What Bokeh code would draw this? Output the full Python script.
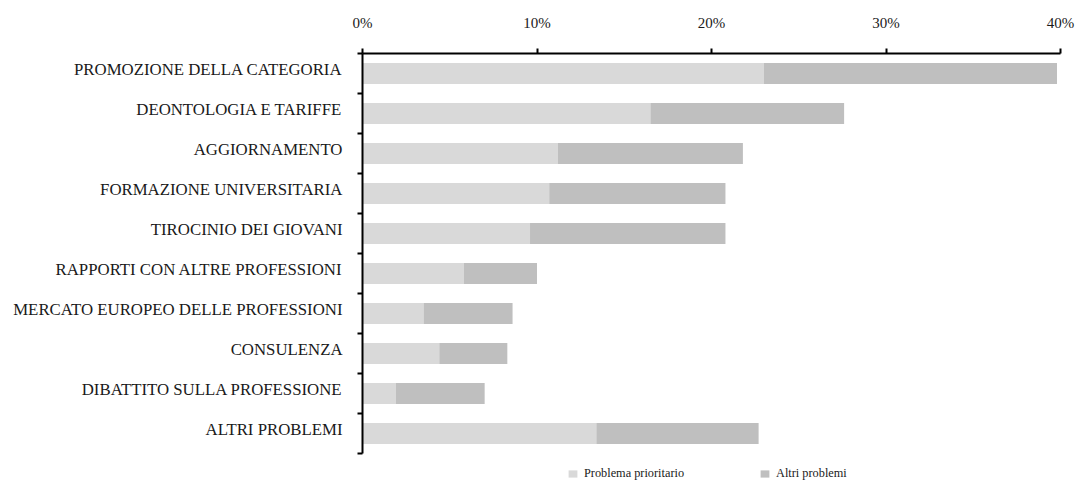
from bokeh.plotting import figure
from bokeh.models import (ColumnDataSource, Range1d, FixedTicker,
                          PrintfTickFormatter, Legend, LegendItem)
from bokeh.embed import file_html
from bokeh.resources import INLINE

categories = [
    "PROMOZIONE DELLA CATEGORIA",
    "DEONTOLOGIA E TARIFFE",
    "AGGIORNAMENTO",
    "FORMAZIONE UNIVERSITARIA",
    "TIROCINIO DEI GIOVANI",
    "RAPPORTI CON ALTRE PROFESSIONI",
    "MERCATO EUROPEO DELLE PROFESSIONI",
    "CONSULENZA",
    "DIBATTITO SULLA PROFESSIONE",
    "ALTRI PROBLEMI",
]
prioritario = [23.0, 16.5, 11.2, 10.7, 9.6, 5.8, 3.5, 4.4, 1.9, 13.4]
altri = [16.8, 11.1, 10.6, 10.1, 11.2, 4.2, 5.1, 3.9, 5.1, 9.3]
x_ticks = [0, 10, 20, 30, 40]
series_names = ["Problema prioritario", "Altri problemi"]
colors = ["#D9D9D9", "#BFBFBF"]

FONT = "Liberation Serif"
n = len(categories)
# numeric slot for each category (first category on top)
slots = [n - i - 0.5 for i in range(n)]
label_pos = [s + 0.1 for s in slots]
legend_room = 0.725  # extra space below the category slots for the legend

source = ColumnDataSource(dict(y=slots, cat=categories, prio=prioritario, altri=altri))

p = figure(width=1076, height=482, output_backend="svg", toolbar_location=None,
           y_range=Range1d(-legend_room, n), x_range=Range1d(0, 40), x_axis_location="above",
           min_border_left=362, min_border_right=16, min_border_top=53, min_border_bottom=0)
p.outline_line_color = None
p.xgrid.visible = False
p.ygrid.visible = False

renderers = p.hbar_stack(["prio", "altri"], y="y", height=0.52, fill_color=colors,
                         line_color=None, source=source)

# top axis
xa = p.xaxis[0]
xa.ticker = FixedTicker(ticks=x_ticks)
xa.formatter = PrintfTickFormatter(format="%d%%")
xa.major_tick_out = 5
xa.major_tick_in = 0
xa.minor_tick_out = 0
xa.minor_tick_in = 0
xa.axis_line_width = 2
xa.axis_line_color = "black"
xa.major_tick_line_width = 2
xa.major_label_standoff = 18
xa.major_label_text_font = FONT
xa.major_label_text_font_size = "15px"
xa.major_label_text_color = "#1a1a1a"

# left axis: category labels at slot centres, ticks at slot boundaries
ya = p.yaxis[0]
ya.bounds = (0, n)
ya.ticker = FixedTicker(ticks=label_pos, minor_ticks=list(range(n + 1)))
ya.major_label_overrides = {s: c for s, c in zip(label_pos, categories)}
ya.major_tick_in = 0
ya.major_tick_out = 0
ya.minor_tick_in = 0
ya.minor_tick_out = 5
ya.minor_tick_line_width = 2
ya.minor_tick_line_color = "black"
ya.axis_line_width = 2
ya.axis_line_color = "black"
ya.major_label_standoff = 15
ya.major_label_text_font = FONT
ya.major_label_text_font_size = "16.8px"
ya.major_label_text_color = "#1a1a1a"

leg = Legend(items=[LegendItem(label=nm, renderers=[r]) for nm, r in zip(series_names, renderers)],
             location=(205, 1), orientation="horizontal",
             glyph_width=11, glyph_height=9, label_standoff=6,
             padding=0, margin=0, spacing=75, border_line_color=None,
             background_fill_alpha=0, label_text_font=FONT,
             label_text_font_size="12.3px", label_height=12, label_text_color="#1a1a1a")
p.add_layout(leg, "center")

open("out.html", "w").write(file_html(p, INLINE))
